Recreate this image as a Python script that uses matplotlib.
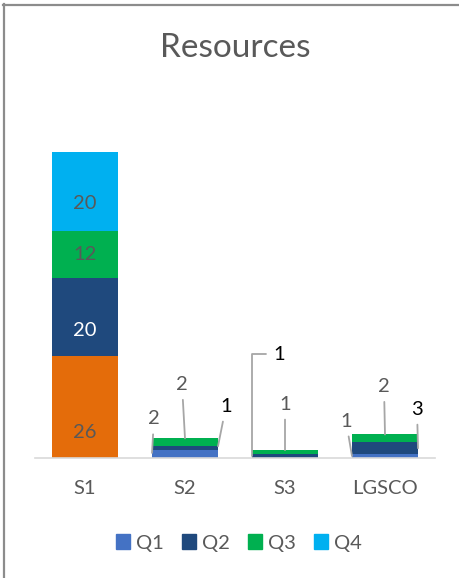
import matplotlib.pyplot as plt
from matplotlib.lines import Line2D
from matplotlib.patches import Patch
import numpy as np

plt.rcParams['font.family'] = ['Lato', 'DejaVu Sans']

categories = ['S1', 'S2', 'S3', 'LGSCO']
series = ['Q1', 'Q2', 'Q3', 'Q4']
q1 = [26, 2, 0, 1]
q2 = [20, 1, 1, 3]
q3 = [12, 2, 1, 2]
q4 = [20, 0, 0, 0]
values = [q1, q2, q3, q4]

colors = ['#4472C4', '#1F497D', '#00B050', '#00B0F0']
s1_q1_color = '#E46C0A'
grey_txt = '#595959'

fig = plt.figure(figsize=(4.59, 5.78), dpi=100)
ax = fig.add_axes([35 / 459, (578 - 458) / 578, 400 / 459, 353 / 578])

x = np.arange(len(categories))
width = 0.66
bottom = np.zeros(len(categories))
bars = []
for i, vals in enumerate(values):
    cols = [colors[i]] * len(categories)
    if i == 0:
        cols[0] = s1_q1_color
    ax.bar(x, vals, width, bottom=bottom, color=cols, linewidth=0)
    bars.append(bottom.copy())
    bottom += np.array(vals)

# labels inside the big S1 column (fraction of segment height)
s1_frac = [0.25, 0.33, 0.5, 0.35]
s1_txt_col = [grey_txt, 'white', grey_txt, grey_txt]
for i in range(4):
    y = bars[i][0] + values[i][0] * s1_frac[i]
    ax.text(0, y, str(values[i][0]), ha='center', va='center',
            fontsize=14.5, color=s1_txt_col[i])

# callout labels for the small columns: (cat, series, anchor dx, anchor y frac, offset px, colour, elbow)
callouts = [
    (1, 0, -width / 2, 0.65, (2, 34), grey_txt, False),
    (1, 2, 0.0, 1.0, (-3, 54), grey_txt, False),
    (1, 1, width / 2, 1.0, (8, 40), 'black', False),
    (2, 1, -width / 2, 0.5, (27, 102), 'black', True),
    (2, 2, 0.0, 1.0, (0, 46), grey_txt, False),
    (3, 0, -width / 2, 0.5, (-6, 35), grey_txt, False),
    (3, 2, 0.0, 1.0, (-1, 48), grey_txt, False),
    (3, 1, width / 2, 0.5, (-1, 39), 'black', False),
]
for c, s, dx, fy, off, col, elbow in callouts:
    v = values[s][c]
    y = bars[s][c] + v * fy
    conn = 'angle,angleA=0,angleB=90,rad=0' if elbow else 'arc3'
    ax.annotate(str(v), xy=(c + dx, y), xytext=off, textcoords='offset pixels',
                ha='center', va='center', fontsize=14.5, color=col,
                arrowprops=dict(arrowstyle='-', color='#a6a6a6', lw=1.3,
                                shrinkA=3, shrinkB=0, connectionstyle=conn))

ax.set_xlim(-0.5, 3.5)
ax.set_ylim(0, 90)
ax.set_xticks(x)
ax.set_xticklabels(categories, fontsize=14.5, color=grey_txt)
ax.tick_params(axis='x', length=0, pad=16)
ax.set_yticks([])
for side in ['top', 'right', 'left']:
    ax.spines[side].set_visible(False)
ax.spines['bottom'].set_color('#d9d9d9')
ax.spines['bottom'].set_linewidth(1.2)

fig.text(235 / 459, 1 - 48 / 578, 'Resources', ha='center', va='center',
         fontsize=24, color=grey_txt)

handles = [Patch(color=c) for c in colors]
fig.legend(handles, series, loc='center', bbox_to_anchor=(239 / 459, 1 - 543 / 578),
           ncol=4, frameon=False, fontsize=14.5, handlelength=0.7, handleheight=0.7,
           handletextpad=0.3, columnspacing=0.9, labelcolor=grey_txt)

# chart frame edges
fig.add_artist(Line2D([4 / 459, 4 / 459], [0, 1 - 4 / 578], color='#8c8c8c', lw=1.6))
fig.add_artist(Line2D([3 / 459, 1], [1 - 5 / 578, 1 - 5 / 578], color='#8c8c8c', lw=1.6))

fig.savefig('out.png', dpi=100)
